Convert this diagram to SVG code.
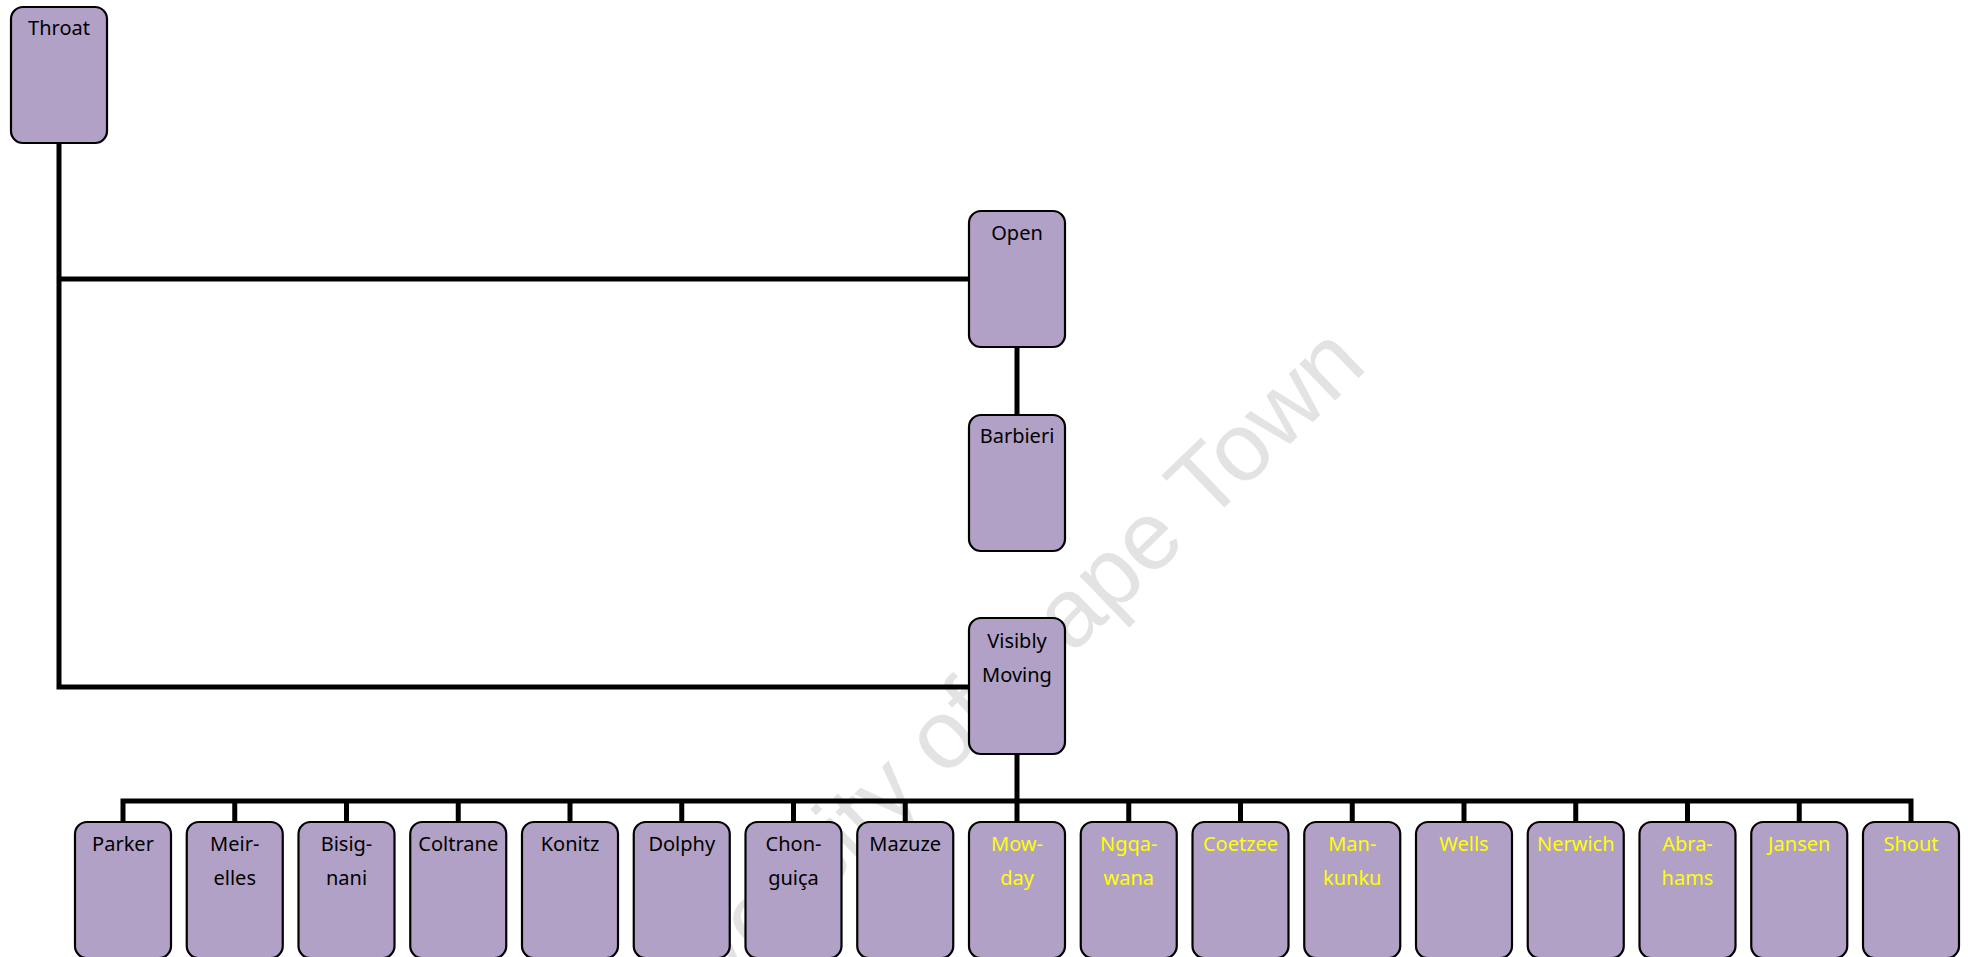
<svg xmlns="http://www.w3.org/2000/svg" width="1968" height="957" viewBox="0 0 1968 957">
  <style>
    .box { fill: #B2A1C7; stroke: #000; stroke-width: 2.2; }
    .lbl { font-family: "Noto Sans", "Liberation Sans", sans-serif; font-size: 20px; text-anchor: middle; fill: #000; }
    .yl { fill: #FFFF00; }
    .wire { fill: none; stroke: #000; stroke-width: 5; stroke-linejoin: miter; stroke-linecap: butt; }
    .mark { font-family: "Liberation Sans", Arial, sans-serif; font-size: 97px; fill: #E3E3E3; }
  </style>
  <defs>
    <rect id="card" width="96" height="136" rx="12" ry="12"/>
  </defs>
  <rect width="1968" height="957" fill="#fff"/>

  <!-- background watermark -->
  <text class="mark" transform="translate(618,1093) rotate(-44)">University of Cape Town</text>

  <!-- connectors -->
  <g id="connectors" class="wire">
    <path d="M59,143 V687 H969"/>
    <path d="M59,279 H969"/>
    <path d="M1017,347 V415"/>
    <path d="M1017,754 V822"/>
    <path d="M123,822 V801 H1911 V822"/>
    <path d="M234.75,801 V822 M346.5,801 V822 M458.25,801 V822 M570,801 V822 M681.75,801 V822 M793.5,801 V822 M905.25,801 V822 M1128.75,801 V822 M1240.5,801 V822 M1352.25,801 V822 M1464,801 V822 M1575.75,801 V822 M1687.5,801 V822 M1799.25,801 V822"/>
  </g>

  <!-- upper nodes -->
  <g id="throat"><use href="#card" class="box" x="11" y="7"/><text class="lbl" x="59" y="35">Throat</text></g>
  <g id="open"><use href="#card" class="box" x="969" y="211"/><text class="lbl" x="1017" y="240">Open</text></g>
  <g id="barbieri"><use href="#card" class="box" x="969" y="415"/><text class="lbl" x="1017" y="443">Barbieri</text></g>
  <g id="visibly-moving"><use href="#card" class="box" x="969" y="618"/><text class="lbl" x="1017" y="648">Visibly</text><text class="lbl" x="1017" y="682">Moving</text></g>

  <!-- bottom row -->
  <g id="parker"><use href="#card" class="box" x="75" y="822"/><text class="lbl" x="123" y="851">Parker</text></g>
  <g id="meirelles"><use href="#card" class="box" x="186.75" y="822"/><text class="lbl" x="234.75" y="851">Meir-</text><text class="lbl" x="234.75" y="885">elles</text></g>
  <g id="bisignani"><use href="#card" class="box" x="298.5" y="822"/><text class="lbl" x="346.5" y="851">Bisig-</text><text class="lbl" x="346.5" y="885">nani</text></g>
  <g id="coltrane"><use href="#card" class="box" x="410.25" y="822"/><text class="lbl" x="458.25" y="851">Coltrane</text></g>
  <g id="konitz"><use href="#card" class="box" x="522" y="822"/><text class="lbl" x="570" y="851">Konitz</text></g>
  <g id="dolphy"><use href="#card" class="box" x="633.75" y="822"/><text class="lbl" x="681.75" y="851">Dolphy</text></g>
  <g id="chonguica"><use href="#card" class="box" x="745.5" y="822"/><text class="lbl" x="793.5" y="851">Chon-</text><text class="lbl" x="793.5" y="885">guiça</text></g>
  <g id="mazuze"><use href="#card" class="box" x="857.25" y="822"/><text class="lbl" x="905.25" y="851">Mazuze</text></g>
  <g id="mowday"><use href="#card" class="box" x="969" y="822"/><text class="lbl yl" x="1017" y="851">Mow-</text><text class="lbl yl" x="1017" y="885">day</text></g>
  <g id="ngqawana"><use href="#card" class="box" x="1080.75" y="822"/><text class="lbl yl" x="1128.75" y="851">Ngqa-</text><text class="lbl yl" x="1128.75" y="885">wana</text></g>
  <g id="coetzee"><use href="#card" class="box" x="1192.5" y="822"/><text class="lbl yl" x="1240.5" y="851">Coetzee</text></g>
  <g id="mankunku"><use href="#card" class="box" x="1304.25" y="822"/><text class="lbl yl" x="1352.25" y="851">Man-</text><text class="lbl yl" x="1352.25" y="885">kunku</text></g>
  <g id="wells"><use href="#card" class="box" x="1416" y="822"/><text class="lbl yl" x="1464" y="851">Wells</text></g>
  <g id="nerwich"><use href="#card" class="box" x="1527.75" y="822"/><text class="lbl yl" x="1575.75" y="851">Nerwich</text></g>
  <g id="abrahams"><use href="#card" class="box" x="1639.5" y="822"/><text class="lbl yl" x="1687.5" y="851">Abra-</text><text class="lbl yl" x="1687.5" y="885">hams</text></g>
  <g id="jansen"><use href="#card" class="box" x="1751.25" y="822"/><text class="lbl yl" x="1799.25" y="851">Jansen</text></g>
  <g id="shout"><use href="#card" class="box" x="1863" y="822"/><text class="lbl yl" x="1911" y="851">Shout</text></g>
</svg>
